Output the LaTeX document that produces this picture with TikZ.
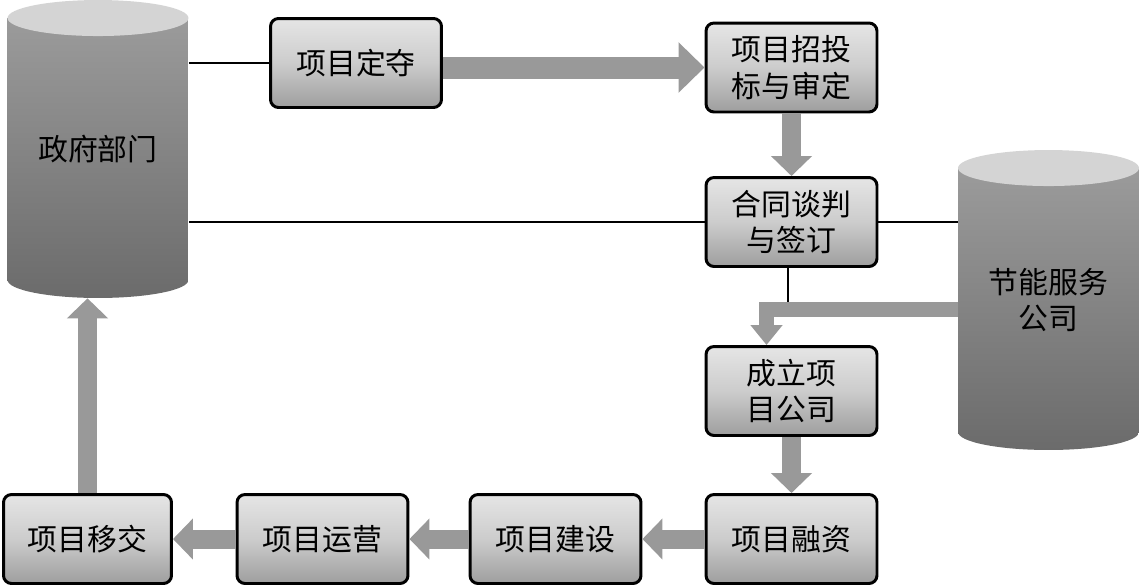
\documentclass[tikz,border=0pt]{standalone}
\usepackage{fontspec}
\newfontfamily\cjk{Noto Sans CJK SC}
\usetikzlibrary{positioning,arrows.meta}
\definecolor{arrowgray}{gray}{0.6}

\tikzset{
  stage/.style={draw=black,line width=1.7pt,rounded corners=0.16cm,
    top color=black!10,bottom color=black!38,middle color=black!20,
    minimum width=3.42cm,minimum height=1.78cm,align=center},
  barrel/.style={minimum width=3.62cm,minimum height=#1,align=center,
    path picture={
      \shade[top color=black!38,bottom color=black!58]
        ([yshift=-0.36cm]path picture bounding box.north west)
        -- ([yshift=0.36cm]path picture bounding box.south west)
        arc[start angle=180,end angle=360,x radius=1.81cm,y radius=0.36cm]
        -- ([yshift=-0.36cm]path picture bounding box.north east) -- cycle;
      \fill[black!17] ([yshift=-0.36cm]path picture bounding box.north)
        ellipse[x radius=1.81cm,y radius=0.36cm];
    }},
  fat/.style={draw=arrowgray,line width=0.44cm,-{Triangle[width=0.98cm,length=0.52cm]}},
  flow/.style={draw=arrowgray,line width=0.38cm,-{Triangle[width=0.8cm,length=0.4cm]}},
  slim/.style={draw=arrowgray,line width=0.3cm,-{Triangle[width=0.62cm,length=0.4cm]}},
  link/.style={draw=black,line width=0.6pt}
}

\begin{document}
\begin{tikzpicture}[x=0.02cm,y=-0.02cm,every node/.style={font=\cjk\fontsize{17}{21}\selectfont}]
\useasboundingbox (0,0) rectangle (1139,586);

% the two parties
\node[barrel=5.96cm] (gov) at (98,149) {政府部门};
\node[barrel=6cm] (esco) at (1048.5,300) {节能服务\\公司};

% stages
\node[stage] (decide) at (356,63) {项目定夺};
\node[stage] (bid) at (791.5,67.5) {项目招投\\标与审定};
\node[stage] (contract) at (791.5,222) {合同谈判\\与签订};
\node[stage] (setup) at (791.5,391) {成立项\\目公司};
\node[stage] (finance) at (791.5,539) {项目融资};
\node[stage] (build) at (555.5,539) {项目建设};
\node[stage] (operate) at (322.5,539) {项目运营};
\node[stage,minimum width=3.36cm] (handover) at (87.5,539) {项目移交};

% thin links
\draw[link] (gov.east |- decide.west) -- (decide.west);
\draw[link] (gov.east |- contract.west) -- (contract.west);
\draw[link] (contract.east) -- (esco.west |- contract.east);
\coordinate (join) at (788,309);
\draw[link] (contract.south -| join) -- (join);

% flow arrows
\draw[fat] (decide.east |- bid.west) -- (bid.west);
\draw[flow] (bid.south) -- (contract.north);
\draw[slim] (esco.west |- join) -| ([xshift=-0.5cm]setup.north);
\draw[flow] (setup.south) -- (finance.north);
\draw[flow] (finance.west) -- (build.east);
\draw[flow] (build.west) -- (operate.east);
\draw[flow] (operate.west) -- (handover.east);
\draw[flow] (handover.north) -- (handover.north |- gov.south);
\end{tikzpicture}
\end{document}
